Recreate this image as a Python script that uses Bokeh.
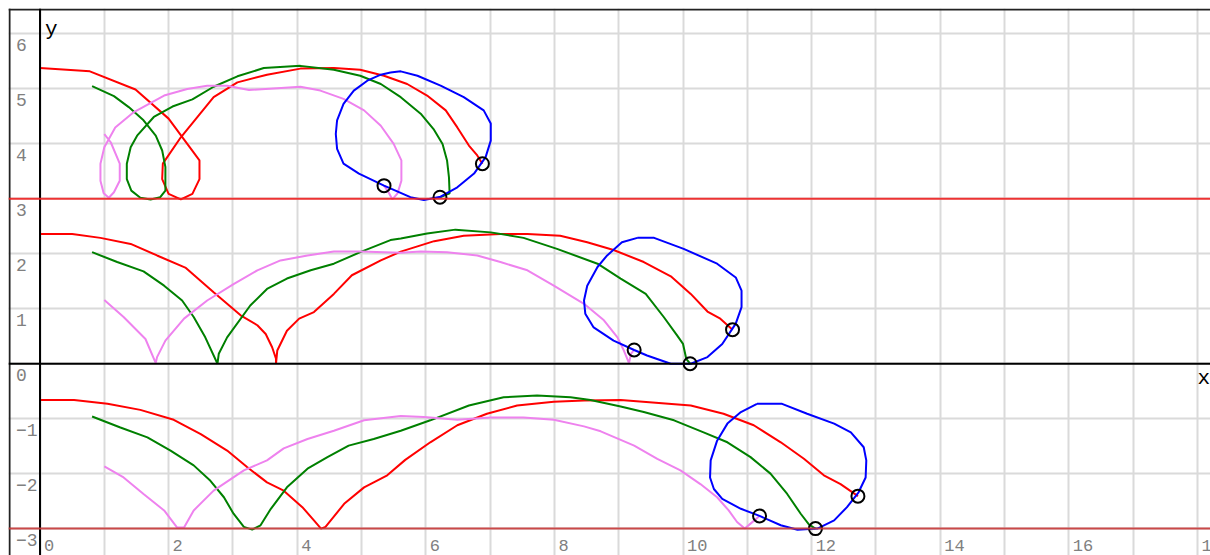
from bokeh.plotting import figure
from bokeh.models import Grid, SingleIntervalTicker, Span
from bokeh.core.properties import value
from bokeh.embed import file_html
from bokeh.resources import INLINE

# ---------------- data ----------------
# top group (baseline y = 3)
red_top_x = [0, 0.775, 1.485, 2.0, 2.29, 2.48, 2.48, 2.37, 2.19, 2.0, 1.9, 1.91, 2.19, 2.70, 3.07, 3.53, 4.05, 4.57, 4.98, 5.35, 5.71, 6.02, 6.31, 6.49, 6.67, 6.80, 6.88]
red_top_y = [5.38, 5.32, 4.99, 4.46, 4.0, 3.70, 3.36, 3.09, 2.99, 3.09, 3.36, 3.64, 4.12, 4.85, 5.12, 5.26, 5.37, 5.38, 5.35, 5.24, 5.09, 4.88, 4.61, 4.30, 3.97, 3.79, 3.64]
green_top_x = [0.81, 1.15, 1.38, 1.61, 1.80, 1.90, 1.95, 1.95, 1.87, 1.72, 1.56, 1.42, 1.35, 1.35, 1.41, 1.51, 1.77, 2.06, 2.37, 2.70, 3.07, 3.48, 4.05, 4.57, 4.98, 5.30, 5.61, 5.92, 6.12, 6.26, 6.33, 6.36, 6.37, 6.22]
green_top_y = [5.05, 4.87, 4.67, 4.43, 4.15, 3.88, 3.58, 3.15, 3.03, 2.99, 3.02, 3.15, 3.36, 3.64, 3.94, 4.15, 4.49, 4.68, 4.81, 5.04, 5.23, 5.38, 5.42, 5.35, 5.24, 5.09, 4.85, 4.55, 4.27, 4.0, 3.70, 3.39, 3.10, 3.03]
violet_top_x = [1.0, 1.10, 1.24, 1.24, 1.15, 1.07, 0.99, 0.94, 0.94, 1.0, 1.17, 1.46, 1.93, 2.29, 2.60, 2.91, 3.25, 4.05, 4.36, 4.72, 5.04, 5.30, 5.50, 5.62, 5.62, 5.56, 5.48, 5.42, 5.35]
violet_top_y = [4.18, 4.03, 3.64, 3.33, 3.12, 3.02, 3.10, 3.33, 3.64, 3.94, 4.30, 4.58, 4.88, 5.0, 5.06, 5.06, 4.98, 5.04, 4.97, 4.82, 4.61, 4.33, 4.0, 3.70, 3.33, 3.10, 2.99, 3.12, 3.24]
blue_top_x = [5.45, 5.61, 5.87, 6.23, 6.59, 6.90, 7.01, 7.01, 6.93, 6.75, 6.49, 6.23, 5.97, 5.76, 5.35, 4.96, 4.72, 4.62, 4.60, 4.62, 4.72, 4.88, 5.09, 5.30, 5.45]
blue_top_y = [5.30, 5.32, 5.24, 5.06, 4.85, 4.61, 4.37, 4.06, 3.76, 3.46, 3.21, 3.04, 2.98, 3.03, 3.24, 3.46, 3.64, 3.91, 4.18, 4.43, 4.73, 4.97, 5.15, 5.26, 5.30]
circ_top_x = [5.35, 6.22, 6.88]
circ_top_y = [3.24, 3.03, 3.64]

# middle group (baseline y = 0)
red_mid_x = [0, 0.50, 0.94, 1.41, 1.82, 2.26, 2.70, 3.12, 3.38, 3.51, 3.61, 3.67, 3.67, 3.69, 3.84, 4.03, 4.26, 4.57, 4.85, 5.30, 5.61, 6.13, 6.59, 7.16, 7.58, 8.09, 8.51, 8.92, 9.39, 9.81, 10.12, 10.38, 10.58, 10.77]
red_mid_y = [2.36, 2.36, 2.29, 2.18, 1.97, 1.75, 1.30, 0.88, 0.70, 0.54, 0.30, 0.09, 0.0, 0.24, 0.60, 0.82, 0.94, 1.27, 1.61, 1.88, 2.04, 2.23, 2.33, 2.36, 2.36, 2.33, 2.21, 2.07, 1.85, 1.59, 1.27, 0.95, 0.82, 0.62]
green_mid_x = [0.81, 1.20, 1.61, 1.93, 2.21, 2.39, 2.57, 2.76, 2.78, 2.91, 3.27, 3.53, 3.84, 4.21, 4.57, 4.98, 5.45, 5.61, 6.02, 6.46, 7.01, 7.52, 8.04, 8.67, 9.03, 9.42, 9.70, 9.91, 10.0, 10.05, 10.11]
green_mid_y = [2.03, 1.85, 1.68, 1.42, 1.15, 0.85, 0.48, 0.0, 0.18, 0.48, 1.06, 1.36, 1.55, 1.70, 1.82, 2.03, 2.25, 2.28, 2.37, 2.44, 2.39, 2.29, 2.09, 1.82, 1.55, 1.27, 0.85, 0.51, 0.36, 0.09, 0.0]
violet_mid_x = [1.0, 1.30, 1.64, 1.80, 1.82, 1.95, 2.24, 2.60, 3.01, 3.38, 3.74, 4.16, 4.57, 4.98, 5.61, 5.92, 6.33, 6.80, 7.16, 7.58, 7.99, 8.46, 8.77, 8.98, 9.08, 9.16, 9.19, 9.24]
violet_mid_y = [1.16, 0.85, 0.45, 0.01, 0.12, 0.42, 0.82, 1.15, 1.45, 1.70, 1.88, 1.97, 2.04, 2.04, 2.02, 2.04, 2.03, 1.97, 1.85, 1.70, 1.42, 1.09, 0.79, 0.48, 0.24, 0.01, 0.18, 0.25]
blue_mid_x = [9.29, 9.55, 10.01, 10.53, 10.82, 10.91, 10.91, 10.82, 10.61, 10.38, 10.12, 9.81, 9.44, 9.24, 8.92, 8.61, 8.48, 8.46, 8.51, 8.67, 8.82, 9.05, 9.29]
blue_mid_y = [2.29, 2.29, 2.09, 1.82, 1.57, 1.33, 1.03, 0.73, 0.36, 0.12, 0.0, 0.0, 0.15, 0.25, 0.42, 0.66, 0.91, 1.15, 1.42, 1.76, 1.97, 2.21, 2.29]
circ_mid_x = [9.24, 10.11, 10.77]
circ_mid_y = [0.25, 0.0, 0.62]

# bottom group (baseline y = -3)
red_bot_x = [0, 0.53, 1.05, 1.56, 2.08, 2.50, 2.91, 3.22, 3.53, 3.79, 4.08, 4.26, 4.37, 4.44, 4.73, 5.04, 5.40, 5.68, 6.07, 6.49, 6.95, 7.42, 7.99, 8.46, 9.03, 10.12, 10.63, 11.10, 11.52, 11.88, 12.19, 12.45, 12.72]
red_bot_y = [-0.66, -0.66, -0.73, -0.84, -1.02, -1.28, -1.58, -1.88, -2.16, -2.31, -2.61, -2.85, -3.0, -2.97, -2.55, -2.25, -2.03, -1.75, -1.43, -1.12, -0.91, -0.76, -0.69, -0.67, -0.66, -0.76, -0.91, -1.12, -1.43, -1.73, -2.03, -2.19, -2.41]
green_bot_x = [0.81, 1.25, 1.67, 2.03, 2.39, 2.65, 2.86, 3.01, 3.17, 3.30, 3.43, 3.59, 3.84, 4.16, 4.47, 4.80, 5.19, 5.61, 6.07, 6.67, 7.21, 7.73, 8.25, 8.56, 9.03, 9.39, 9.86, 10.32, 10.69, 11.05, 11.36, 11.62, 11.83, 11.96, 12.06]
green_bot_y = [-0.96, -1.16, -1.34, -1.58, -1.85, -2.13, -2.43, -2.73, -2.97, -3.02, -2.94, -2.64, -2.25, -1.91, -1.70, -1.49, -1.37, -1.22, -1.03, -0.76, -0.61, -0.58, -0.61, -0.66, -0.78, -0.88, -1.03, -1.25, -1.43, -1.70, -2.0, -2.37, -2.73, -2.93, -3.0]
violet_bot_x = [1.0, 1.30, 1.61, 1.93, 2.13, 2.24, 2.39, 2.70, 3.17, 3.53, 3.79, 4.16, 4.57, 5.04, 5.61, 5.97, 6.49, 7.01, 7.52, 7.99, 8.46, 8.72, 9.24, 9.60, 9.96, 10.27, 10.53, 10.71, 10.84, 10.96, 11.05, 11.19]
violet_bot_y = [-1.87, -2.07, -2.37, -2.67, -2.98, -2.98, -2.67, -2.31, -1.94, -1.76, -1.54, -1.37, -1.22, -1.03, -0.95, -0.97, -1.02, -0.98, -0.98, -1.02, -1.14, -1.23, -1.49, -1.73, -1.94, -2.19, -2.43, -2.67, -2.88, -3.0, -2.91, -2.77]
blue_bot_x = [11.15, 11.54, 11.93, 12.35, 12.61, 12.81, 12.85, 12.84, 12.73, 12.55, 12.35, 12.09, 11.78, 11.52, 11.19, 10.90, 10.61, 10.48, 10.42, 10.43, 10.53, 10.69, 10.90, 11.15]
blue_bot_y = [-0.73, -0.73, -0.91, -1.09, -1.25, -1.52, -1.76, -2.07, -2.34, -2.61, -2.85, -3.0, -3.02, -2.94, -2.77, -2.64, -2.46, -2.28, -2.07, -1.76, -1.40, -1.09, -0.88, -0.73]
circ_bot_x = [11.19, 12.06, 12.72]
circ_bot_y = [-2.77, -3.0, -2.41]

baselines = [3, -3]
xtick_vals = [0, 2, 4, 6, 8, 10, 12, 14, 16, 18]
xtick_labels = ["0", "2", "4", "6", "8", "10", "12", "14", "16", "18"]
ytick_vals = [6, 5, 4, 3, 2, 1, 0, -1, -2, -3]
ytick_labels = ["6", "5", "4", "3", "2", "1", "0", "\u22121", "\u22122", "\u22123"]

# ---------------- figure ----------------
p = figure(width=1210, height=555, x_range=(-0.490, 18.203), y_range=(-3.490, 6.464),
           output_backend="svg", toolbar_location=None,
           min_border_left=8, min_border_top=8, min_border_right=0, min_border_bottom=0,
           x_axis_type=None, y_axis_type=None)
p.outline_line_color = None
p.background_fill_color = "white"
p.border_fill_color = "white"

p.add_layout(Grid(dimension=0, ticker=SingleIntervalTicker(interval=1),
                  grid_line_color="#dadada", grid_line_width=2))
p.add_layout(Grid(dimension=1, ticker=SingleIntervalTicker(interval=1),
                  grid_line_color="#dadada", grid_line_width=2))

# board border (top / left)
p.add_layout(Span(location=-0.474, dimension="height", line_color="#222222", line_width=2))
p.add_layout(Span(location=6.446, dimension="width", line_color="#222222", line_width=2))

# axes
p.add_layout(Span(location=0, dimension="height", line_color="black", line_width=2))
p.add_layout(Span(location=0, dimension="width", line_color="black", line_width=2))

# ground lines
p.add_layout(Span(location=baselines[0], dimension="width", line_color="#f02020", line_width=2, line_alpha=0.9))
p.add_layout(Span(location=baselines[1], dimension="width", line_color="#c83838", line_width=2, line_alpha=0.9))

# tick labels
font = value("Liberation Mono")
p.text(x=[0] * len(ytick_vals), y=ytick_vals, text=ytick_labels, x_offset=-24, y_offset=11,
       text_font=font, text_font_size="18px", text_color="#808080",
       text_align="left", text_baseline="middle")
p.text(x=xtick_vals, y=[-3] * len(xtick_vals), text=xtick_labels, x_offset=4, y_offset=17,
       text_font=font, text_font_size="17px", text_color="#808080",
       text_align="left", text_baseline="middle")
p.text(x=[0], y=[6], text=["y"], x_offset=5, y_offset=-4, text_font=font,
       text_font_size="21px", text_color="black", text_align="left", text_baseline="middle")
p.text(x=[18], y=[0], text=["x"], x_offset=0, y_offset=15, text_font=font,
       text_font_size="21px", text_color="black", text_align="left", text_baseline="middle")

# curves
for xs, ys, c in [
    (red_top_x, red_top_y, "red"), (green_top_x, green_top_y, "green"),
    (violet_top_x, violet_top_y, "violet"),
    (red_mid_x, red_mid_y, "red"), (green_mid_x, green_mid_y, "green"),
    (violet_mid_x, violet_mid_y, "violet"),
    (red_bot_x, red_bot_y, "red"), (green_bot_x, green_bot_y, "green"),
    (violet_bot_x, violet_bot_y, "violet"),
]:
    p.line(xs, ys, line_color=c, line_width=2)

for xs, ys in [(blue_top_x, blue_top_y), (blue_mid_x, blue_mid_y), (blue_bot_x, blue_bot_y)]:
    p.line(xs, ys, line_color="blue", line_width=2)

for xs, ys in [(circ_top_x, circ_top_y), (circ_mid_x, circ_mid_y), (circ_bot_x, circ_bot_y)]:
    p.scatter(xs, ys, marker="circle", size=13, fill_color=None, line_color="black", line_width=2)

open("out.html", "w").write(file_html(p, INLINE))
